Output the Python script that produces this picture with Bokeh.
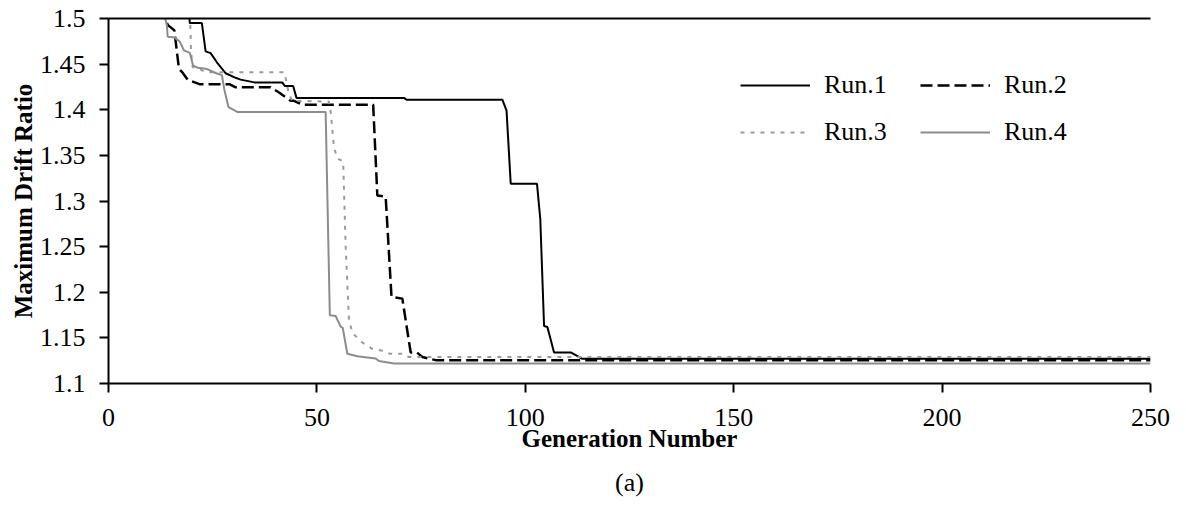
from bokeh.plotting import figure
from bokeh.models import (Range1d, FixedTicker, LinearAxis, Legend, LegendItem, Title)
from bokeh.embed import file_html
from bokeh.resources import INLINE

# ---- data ----
run1_gen = [0, 19, 19.5, 22.4, 23.3, 24.5, 26.0, 28.1, 30.5, 31.7, 35.0, 41.7, 42.3, 44.3, 45.1,
            70.9, 71.5, 94.5, 95.5, 96.5, 102.8, 103.6, 104.5, 105.3, 106.9, 110.9, 112.1, 113.7, 250]
run1_val = [1.65, 1.53, 1.495, 1.495, 1.464, 1.462, 1.452, 1.440, 1.435, 1.433, 1.430, 1.430, 1.426, 1.426, 1.413,
            1.413, 1.411, 1.411, 1.399, 1.319, 1.319, 1.280, 1.163, 1.162, 1.134, 1.134, 1.131, 1.127, 1.127]

run2_gen = [0, 12, 14.2, 15.8, 16.9, 17.7, 19.0, 21.8, 29.0, 30.5, 38.9, 41.0, 43.7, 44.5, 46.5,
            63.5, 64.5, 66.5, 67.9, 70.5, 72.5, 74.0, 75.3, 78.5, 250]
run2_val = [1.65, 1.52, 1.493, 1.487, 1.445, 1.441, 1.433, 1.428, 1.428, 1.4246, 1.4246, 1.4186, 1.4098, 1.4098, 1.4056,
            1.4056, 1.306, 1.3047, 1.195, 1.193, 1.134, 1.134, 1.129, 1.1256, 1.1256]

run3_gen = [0, 19.4, 19.8, 20.2, 21.6, 23.5, 42.2, 43.3, 44.1, 52.9, 53.3, 54.1, 54.9, 56.3, 56.9,
            57.7, 58.5, 60.9, 63.3, 65.7, 67.5, 70.5, 72.0, 250]
run3_val = [1.65, 1.53, 1.464, 1.4466, 1.445, 1.441, 1.441, 1.417, 1.4098, 1.409, 1.3976, 1.359, 1.3466, 1.3433, 1.2502,
            1.1695, 1.1555, 1.1449, 1.1379, 1.136, 1.1326, 1.1326, 1.129, 1.129]

run4_gen = [0, 12.5, 14.0, 14.2, 15.8, 17.1, 18.1, 19.5, 20.3, 21.4, 23.4, 25.7, 27.2, 27.8, 28.8,
            30.9, 52.1, 53.1, 54.5, 55.7, 56.2, 57.3, 59.7, 64.1, 64.9, 68.5, 250]
run4_val = [1.65, 1.52, 1.493, 1.48, 1.4793, 1.4747, 1.465, 1.4624, 1.4484, 1.446, 1.445, 1.4403, 1.4379, 1.422, 1.4028,
            1.3976, 1.3976, 1.1747, 1.174, 1.1624, 1.161, 1.1326, 1.1298, 1.1274, 1.1246, 1.122, 1.122]

x_ticks = [0, 50, 100, 150, 200, 250]
y_ticks = [1.1, 1.15, 1.2, 1.25, 1.3, 1.35, 1.4, 1.45, 1.5]
y_tick_labels = ["1.1", "1.15", "1.2", "1.25", "1.3", "1.35", "1.4", "1.45", "1.5"]
labels = ["Run.1", "Run.2", "Run.3", "Run.4"]

FONT = "Liberation Serif"

p = figure(width=1170, height=507, x_range=Range1d(0, 250), y_range=Range1d(1.1, 1.5),
           output_backend="svg", toolbar_location=None,
           min_border_left=108, min_border_right=20, min_border_top=18, min_border_bottom=109)
p.background_fill_color = "white"
p.border_fill_color = "white"
p.outline_line_color = None
p.xgrid.visible = False
p.ygrid.visible = False

r1 = p.line(run1_gen, run1_val, line_color="black", line_width=2)
r2 = p.line(run2_gen, run2_val, line_color="black", line_width=2.5, line_dash="12 5")
r3 = p.line(run3_gen, run3_val, line_color="#9a9a9a", line_width=2, line_dash="4 6")
r4 = p.line(run4_gen, run4_val, line_color="#8c8c8c", line_width=2)
renderers = [r1, r2, r3, r4]

# axes
xa = p.xaxis[0]
xa.ticker = FixedTicker(ticks=x_ticks)
ya = p.yaxis[0]
ya.ticker = FixedTicker(ticks=y_ticks)
ya.major_label_overrides = {t: s for t, s in zip(y_ticks, y_tick_labels)}
for ax in (xa, ya):
    ax.axis_line_color = "black"
    ax.axis_line_width = 2
    ax.major_tick_line_color = "black"
    ax.major_tick_line_width = 2
    ax.major_tick_in = 0
    ax.major_tick_out = 9
    ax.minor_tick_line_color = None
    ax.major_label_text_font = FONT
    ax.major_label_text_font_size = "26px"
    ax.major_label_text_color = "black"
    ax.axis_label_text_font = FONT
    ax.axis_label_text_font_size = "25px"
    ax.axis_label_text_font_style = "bold"
    ax.axis_label_text_color = "black"
xa.axis_label = "Generation Number"
ya.axis_label = "Maximum Drift Ratio"
xa.major_label_standoff = 16
ya.major_label_standoff = 14
xa.axis_label_standoff = -4
ya.axis_label_standoff = 0

top = LinearAxis(ticker=FixedTicker(ticks=[]), axis_line_color="black", axis_line_width=2,
                 major_tick_line_color=None, minor_tick_line_color=None)
p.add_layout(top, "above")

# legend: two columns filled column-wise -> order Run.1, Run.3 | Run.2, Run.4
order = [0, 2, 1, 3]
legend = Legend(items=[LegendItem(label=labels[i], renderers=[renderers[i]]) for i in order],
                ncols=2, location=(632, 236), glyph_width=70, glyph_height=30,
                label_standoff=14, label_width=79, label_height=30, spacing=17,
                padding=0, margin=0, border_line_color=None, background_fill_alpha=0,
                label_text_font=FONT, label_text_font_size="26px", label_text_color="black")
p.add_layout(legend, "center")

sub = Title(text="(a)", align="center", text_font=FONT, text_font_size="26px",
            text_font_style="normal", text_color="black", standoff=22)
p.add_layout(sub, "below")

open("out.html", "w").write(file_html(p, INLINE))
